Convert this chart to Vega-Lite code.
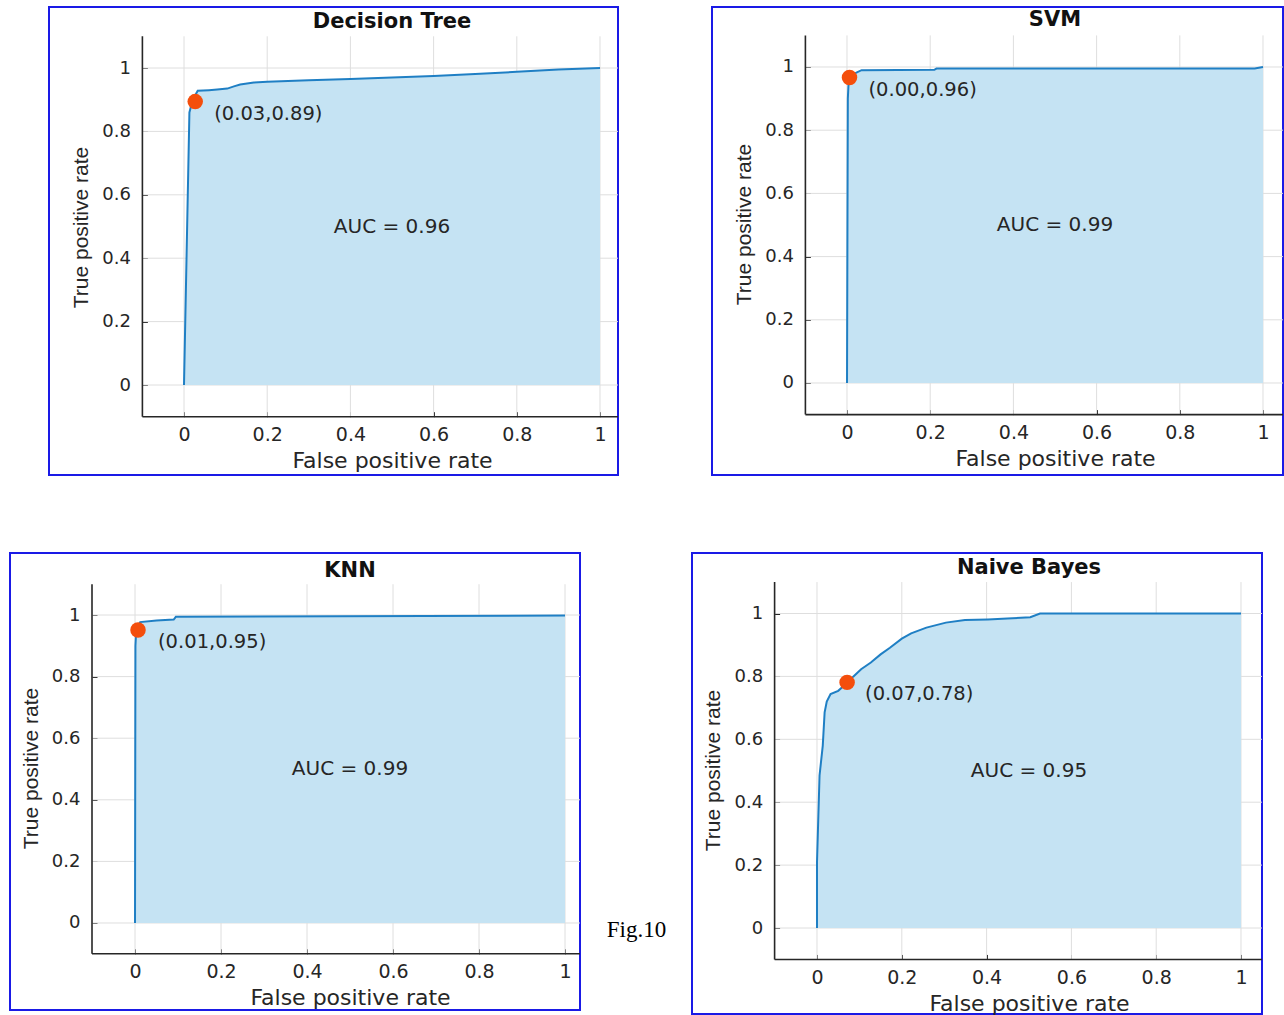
{
  "$schema": "https://vega.github.io/schema/vega-lite/v6.json",
  "padding": {"left": 9, "top": 6, "right": 0, "bottom": 0},
  "autosize": {"type": "pad"},
  "background": "white",
  "datasets": {
    "grid": [
      {"fpr": 0, "tpr": 0}, {"fpr": 0.2, "tpr": 0.2}, {"fpr": 0.4, "tpr": 0.4},
      {"fpr": 0.6, "tpr": 0.6}, {"fpr": 0.8, "tpr": 0.8}, {"fpr": 1, "tpr": 1}
    ],
    "dt": [
      {"fpr": 0, "tpr": 0}, {"fpr": 0.013, "tpr": 0.86}, {"fpr": 0.021, "tpr": 0.9}, {"fpr": 0.033, "tpr": 0.928},
      {"fpr": 0.06, "tpr": 0.93}, {"fpr": 0.08, "tpr": 0.932}, {"fpr": 0.104, "tpr": 0.935}, {"fpr": 0.12, "tpr": 0.942},
      {"fpr": 0.135, "tpr": 0.948}, {"fpr": 0.168, "tpr": 0.954}, {"fpr": 0.2, "tpr": 0.957}, {"fpr": 0.3, "tpr": 0.961},
      {"fpr": 0.4, "tpr": 0.965}, {"fpr": 0.5, "tpr": 0.97}, {"fpr": 0.6, "tpr": 0.975}, {"fpr": 0.7, "tpr": 0.981},
      {"fpr": 0.8, "tpr": 0.988}, {"fpr": 0.9, "tpr": 0.995}, {"fpr": 1, "tpr": 1.0}
    ],
    "svm": [
      {"fpr": 0, "tpr": 0}, {"fpr": 0.002, "tpr": 0.9}, {"fpr": 0.004, "tpr": 0.955}, {"fpr": 0.012, "tpr": 0.975},
      {"fpr": 0.025, "tpr": 0.984}, {"fpr": 0.035, "tpr": 0.99}, {"fpr": 0.21, "tpr": 0.991}, {"fpr": 0.215, "tpr": 0.995},
      {"fpr": 0.98, "tpr": 0.995}, {"fpr": 1, "tpr": 1.0}
    ],
    "knn": [
      {"fpr": 0, "tpr": 0}, {"fpr": 0.001, "tpr": 0.9}, {"fpr": 0.003, "tpr": 0.955}, {"fpr": 0.012, "tpr": 0.977},
      {"fpr": 0.05, "tpr": 0.982}, {"fpr": 0.09, "tpr": 0.985}, {"fpr": 0.095, "tpr": 0.994}, {"fpr": 1, "tpr": 0.998}
    ],
    "nb": [
      {"fpr": 0, "tpr": 0}, {"fpr": 0.0, "tpr": 0.21}, {"fpr": 0.006, "tpr": 0.485}, {"fpr": 0.0136, "tpr": 0.58},
      {"fpr": 0.018, "tpr": 0.686}, {"fpr": 0.023, "tpr": 0.72}, {"fpr": 0.032, "tpr": 0.744}, {"fpr": 0.05, "tpr": 0.754},
      {"fpr": 0.07, "tpr": 0.778}, {"fpr": 0.086, "tpr": 0.8}, {"fpr": 0.104, "tpr": 0.823}, {"fpr": 0.127, "tpr": 0.844},
      {"fpr": 0.15, "tpr": 0.87}, {"fpr": 0.172, "tpr": 0.891}, {"fpr": 0.2, "tpr": 0.92}, {"fpr": 0.222, "tpr": 0.937},
      {"fpr": 0.258, "tpr": 0.955}, {"fpr": 0.304, "tpr": 0.971}, {"fpr": 0.349, "tpr": 0.979}, {"fpr": 0.403, "tpr": 0.981},
      {"fpr": 0.449, "tpr": 0.984}, {"fpr": 0.503, "tpr": 0.988}, {"fpr": 0.526, "tpr": 1.0}, {"fpr": 1, "tpr": 1.0}
    ],
    "panels": [
      {"model": "Decision Tree", "auc": "AUC = 0.96"},
      {"model": "SVM", "auc": "AUC = 0.99"},
      {"model": "KNN", "auc": "AUC = 0.99"},
      {"model": "Naive Bayes", "auc": "AUC = 0.95"}
    ]
  },
  "spacing": 76,
  "vconcat": [
    {
      "spacing": 91,
      "hconcat": [
        {
          "spacing": 0,
          "hconcat": [
            {"width": 38, "height": 10, "view": {"stroke": null}, "data": {"values": []}, "mark": "point"},
            {
              "width": 569, "height": 468,
              "layer": [
                {"data": {"name": "grid"}, "mark": {"type": "rule", "color": "#dedede", "strokeWidth": 1},
                 "encoding": {
                   "x": {"field": "fpr", "type": "quantitative", "title": "False positive rate", "scale": {"domain": [-0.32452, 1.04327], "nice": false, "zero": false},
                         "axis": {"values": [0, 0.2, 0.4, 0.6, 0.8, 1], "format": "~g", "offset": -58.3, "titleX": 343}},
                   "y": {"datum": -0.1, "type": "quantitative", "title": "True positive rate", "scale": {"domain": [-0.28391, 1.19243], "nice": false, "zero": false},
                         "axis": {"values": [0, 0.2, 0.4, 0.6, 0.8, 1], "format": "~g", "offset": -93.4, "titleY": 220}},
                   "y2": {"datum": 1.1}}},
                {"data": {"name": "grid"}, "mark": {"type": "rule", "color": "#dedede", "strokeWidth": 1},
                 "encoding": {"x": {"datum": -0.1, "type": "quantitative", "title": "False positive rate"}, "x2": {"datum": 1.04327},
                              "y": {"field": "tpr", "type": "quantitative", "title": "True positive rate"}}},
                {"data": {"name": "dt"}, "mark": {"type": "area", "color": "#c5e3f3", "opacity": 1},
                 "encoding": {"x": {"field": "fpr", "type": "quantitative", "title": "False positive rate"},
                              "y": {"field": "tpr", "type": "quantitative", "title": "True positive rate"}, "y2": {"datum": 0}}},
                {"data": {"name": "dt"}, "mark": {"type": "line", "color": "#1f7fc4", "strokeWidth": 2},
                 "encoding": {"x": {"field": "fpr", "type": "quantitative", "title": "False positive rate"},
                              "y": {"field": "tpr", "type": "quantitative", "title": "True positive rate"}}},
                {"data": {"values": [{"fpr": 0.027, "tpr": 0.894, "label": "(0.03,0.89)"}]},
                 "mark": {"type": "circle", "color": "#f44e0c", "size": 240, "opacity": 1},
                 "encoding": {"x": {"field": "fpr", "type": "quantitative", "title": "False positive rate"},
                              "y": {"field": "tpr", "type": "quantitative", "title": "True positive rate"}}},
                {"data": {"values": [{"fpr": 0.027, "tpr": 0.894, "label": "(0.03,0.89)"}]},
                 "mark": {"type": "text", "align": "left", "baseline": "middle", "dx": 19, "dy": 12, "fontSize": 19.5, "color": "#262626"},
                 "encoding": {"x": {"field": "fpr", "type": "quantitative", "title": "False positive rate"},
                              "y": {"field": "tpr", "type": "quantitative", "title": "True positive rate"}, "text": {"field": "label"}}},
                {"data": {"name": "panels"}, "transform": [{"filter": "datum.model === 'Decision Tree'"}],
                 "layer": [
                   {"mark": {"type": "text", "align": "center", "baseline": "middle", "fontSize": 20, "color": "#262626"},
                    "encoding": {"x": {"datum": 0.5, "type": "quantitative", "title": "False positive rate"}, "y": {"datum": 0.5, "type": "quantitative", "title": "True positive rate"}, "text": {"field": "auc"}}},
                   {"mark": {"type": "text", "align": "center", "baseline": "middle", "fontSize": 21, "fontWeight": "bold", "color": "#111111"},
                    "encoding": {"x": {"datum": 0.5, "type": "quantitative", "title": "False positive rate"}, "y": {"datum": 1.146, "type": "quantitative", "title": "True positive rate"}, "text": {"field": "model"}}},
                   {"mark": {"type": "rule", "color": "#262626", "strokeWidth": 1.6},
                    "encoding": {"x": {"datum": -0.1, "type": "quantitative", "title": "False positive rate"}, "x2": {"datum": 1.04327}, "y": {"datum": -0.1, "type": "quantitative", "title": "True positive rate"}}},
                   {"mark": {"type": "rule", "color": "#262626", "strokeWidth": 1.6},
                    "encoding": {"x": {"datum": -0.1, "type": "quantitative", "title": "False positive rate"}, "y": {"datum": -0.1, "type": "quantitative", "title": "True positive rate"}, "y2": {"datum": 1.1}}}
                 ]}
              ]
            }
          ]
        },
        {
          "width": 571, "height": 468,
          "layer": [
            {"data": {"name": "grid"}, "mark": {"type": "rule", "color": "#dedede", "strokeWidth": 1},
             "encoding": {
               "x": {"field": "fpr", "type": "quantitative", "title": "False positive rate", "scale": {"domain": [-0.32452, 1.04808], "nice": false, "zero": false},
                     "axis": {"values": [0, 0.2, 0.4, 0.6, 0.8, 1], "format": "~g", "offset": -60.4, "titleX": 343}},
               "y": {"datum": -0.1, "type": "quantitative", "title": "True positive rate", "scale": {"domain": [-0.29114, 1.18987], "nice": false, "zero": false},
                     "axis": {"values": [0, 0.2, 0.4, 0.6, 0.8, 1], "format": "~g", "offset": -93.4, "titleY": 217}},
               "y2": {"datum": 1.1}}},
            {"data": {"name": "grid"}, "mark": {"type": "rule", "color": "#dedede", "strokeWidth": 1},
             "encoding": {"x": {"datum": -0.1, "type": "quantitative", "title": "False positive rate"}, "x2": {"datum": 1.04808},
                          "y": {"field": "tpr", "type": "quantitative", "title": "True positive rate"}}},
            {"data": {"name": "svm"}, "mark": {"type": "area", "color": "#c5e3f3", "opacity": 1},
             "encoding": {"x": {"field": "fpr", "type": "quantitative", "title": "False positive rate"},
                          "y": {"field": "tpr", "type": "quantitative", "title": "True positive rate"}, "y2": {"datum": 0}}},
            {"data": {"name": "svm"}, "mark": {"type": "line", "color": "#1f7fc4", "strokeWidth": 2},
             "encoding": {"x": {"field": "fpr", "type": "quantitative", "title": "False positive rate"},
                          "y": {"field": "tpr", "type": "quantitative", "title": "True positive rate"}}},
            {"data": {"values": [{"fpr": 0.006, "tpr": 0.967, "label": "(0.00,0.96)"}]},
             "mark": {"type": "circle", "color": "#f44e0c", "size": 240, "opacity": 1},
             "encoding": {"x": {"field": "fpr", "type": "quantitative", "title": "False positive rate"},
                          "y": {"field": "tpr", "type": "quantitative", "title": "True positive rate"}}},
            {"data": {"values": [{"fpr": 0.006, "tpr": 0.967, "label": "(0.00,0.96)"}]},
             "mark": {"type": "text", "align": "left", "baseline": "middle", "dx": 19, "dy": 13, "fontSize": 19.5, "color": "#262626"},
             "encoding": {"x": {"field": "fpr", "type": "quantitative", "title": "False positive rate"},
                          "y": {"field": "tpr", "type": "quantitative", "title": "True positive rate"}, "text": {"field": "label"}}},
            {"data": {"name": "panels"}, "transform": [{"filter": "datum.model === 'SVM'"}],
             "layer": [
               {"mark": {"type": "text", "align": "center", "baseline": "middle", "fontSize": 20, "color": "#262626"},
                "encoding": {"x": {"datum": 0.5, "type": "quantitative", "title": "False positive rate"}, "y": {"datum": 0.5, "type": "quantitative", "title": "True positive rate"}, "text": {"field": "auc"}}},
               {"mark": {"type": "text", "align": "center", "baseline": "middle", "fontSize": 21, "fontWeight": "bold", "color": "#111111"},
                "encoding": {"x": {"datum": 0.5, "type": "quantitative", "title": "False positive rate"}, "y": {"datum": 1.149, "type": "quantitative", "title": "True positive rate"}, "text": {"field": "model"}}},
               {"mark": {"type": "rule", "color": "#262626", "strokeWidth": 1.6},
                "encoding": {"x": {"datum": -0.1, "type": "quantitative", "title": "False positive rate"}, "x2": {"datum": 1.04808}, "y": {"datum": -0.1, "type": "quantitative", "title": "True positive rate"}}},
               {"mark": {"type": "rule", "color": "#262626", "strokeWidth": 1.6},
                "encoding": {"x": {"datum": -0.1, "type": "quantitative", "title": "False positive rate"}, "y": {"datum": -0.1, "type": "quantitative", "title": "True positive rate"}, "y2": {"datum": 1.1}}}
             ]}
          ]
        }
      ]
    },
    {
      "spacing": 18.5,
      "hconcat": [
        {
          "width": 570, "height": 457,
          "layer": [
            {"data": {"name": "grid"}, "mark": {"type": "rule", "color": "#dedede", "strokeWidth": 1},
             "encoding": {
               "x": {"field": "fpr", "type": "quantitative", "title": "False positive rate", "scale": {"domain": [-0.2907, 1.03488], "nice": false, "zero": false},
                     "axis": {"values": [0, 0.2, 0.4, 0.6, 0.8, 1], "format": "~g", "offset": -56.2, "titleX": 340}},
               "y": {"datum": -0.1, "type": "quantitative", "title": "True positive rate", "scale": {"domain": [-0.28247, 1.2013], "nice": false, "zero": false},
                     "axis": {"values": [0, 0.2, 0.4, 0.6, 0.8, 1], "format": "~g", "offset": -82, "titleY": 215}},
               "y2": {"datum": 1.1}}},
            {"data": {"name": "grid"}, "mark": {"type": "rule", "color": "#dedede", "strokeWidth": 1},
             "encoding": {"x": {"datum": -0.1, "type": "quantitative", "title": "False positive rate"}, "x2": {"datum": 1.03488},
                          "y": {"field": "tpr", "type": "quantitative", "title": "True positive rate"}}},
            {"data": {"name": "knn"}, "mark": {"type": "area", "color": "#c5e3f3", "opacity": 1},
             "encoding": {"x": {"field": "fpr", "type": "quantitative", "title": "False positive rate"},
                          "y": {"field": "tpr", "type": "quantitative", "title": "True positive rate"}, "y2": {"datum": 0}}},
            {"data": {"name": "knn"}, "mark": {"type": "line", "color": "#1f7fc4", "strokeWidth": 2},
             "encoding": {"x": {"field": "fpr", "type": "quantitative", "title": "False positive rate"},
                          "y": {"field": "tpr", "type": "quantitative", "title": "True positive rate"}}},
            {"data": {"values": [{"fpr": 0.007, "tpr": 0.951, "label": "(0.01,0.95)"}]},
             "mark": {"type": "circle", "color": "#f44e0c", "size": 240, "opacity": 1},
             "encoding": {"x": {"field": "fpr", "type": "quantitative", "title": "False positive rate"},
                          "y": {"field": "tpr", "type": "quantitative", "title": "True positive rate"}}},
            {"data": {"values": [{"fpr": 0.007, "tpr": 0.951, "label": "(0.01,0.95)"}]},
             "mark": {"type": "text", "align": "left", "baseline": "middle", "dx": 20, "dy": 12, "fontSize": 19.5, "color": "#262626"},
             "encoding": {"x": {"field": "fpr", "type": "quantitative", "title": "False positive rate"},
                          "y": {"field": "tpr", "type": "quantitative", "title": "True positive rate"}, "text": {"field": "label"}}},
            {"data": {"name": "panels"}, "transform": [{"filter": "datum.model === 'KNN'"}],
             "layer": [
               {"mark": {"type": "text", "align": "center", "baseline": "middle", "fontSize": 20, "color": "#262626"},
                "encoding": {"x": {"datum": 0.5, "type": "quantitative", "title": "False positive rate"}, "y": {"datum": 0.5, "type": "quantitative", "title": "True positive rate"}, "text": {"field": "auc"}}},
               {"mark": {"type": "text", "align": "center", "baseline": "middle", "fontSize": 21, "fontWeight": "bold", "color": "#111111"},
                "encoding": {"x": {"datum": 0.5, "type": "quantitative", "title": "False positive rate"}, "y": {"datum": 1.143, "type": "quantitative", "title": "True positive rate"}, "text": {"field": "model"}}},
               {"mark": {"type": "rule", "color": "#262626", "strokeWidth": 1.6},
                "encoding": {"x": {"datum": -0.1, "type": "quantitative", "title": "False positive rate"}, "x2": {"datum": 1.03488}, "y": {"datum": -0.1, "type": "quantitative", "title": "True positive rate"}}},
               {"mark": {"type": "rule", "color": "#262626", "strokeWidth": 1.6},
                "encoding": {"x": {"datum": -0.1, "type": "quantitative", "title": "False positive rate"}, "y": {"datum": -0.1, "type": "quantitative", "title": "True positive rate"}, "y2": {"datum": 1.1}}}
             ]}
          ]
        },
        {
          "width": 72, "height": 460,
          "view": {"stroke": null},
          "data": {"values": [{"t": "Fig.10"}]},
          "mark": {"type": "text", "font": "Liberation Serif", "fontSize": 23, "color": "#000000", "dy": 147},
          "encoding": {"text": {"field": "t"}}
        },
        {
          "width": 570, "height": 461,
          "layer": [
            {"data": {"name": "grid"}, "mark": {"type": "rule", "color": "#dedede", "strokeWidth": 1},
             "encoding": {
               "x": {"field": "fpr", "type": "quantitative", "title": "False positive rate", "scale": {"domain": [-0.29481, 1.04953], "nice": false, "zero": false},
                     "axis": {"values": [0, 0.2, 0.4, 0.6, 0.8, 1], "format": "~g", "offset": -54.55, "titleX": 337}},
               "y": {"datum": -0.1, "type": "quantitative", "title": "True positive rate", "scale": {"domain": [-0.27345, 1.19237], "nice": false, "zero": false},
                     "axis": {"values": [0, 0.2, 0.4, 0.6, 0.8, 1], "format": "~g", "offset": -82.6, "titleY": 217}},
               "y2": {"datum": 1.1}}},
            {"data": {"name": "grid"}, "mark": {"type": "rule", "color": "#dedede", "strokeWidth": 1},
             "encoding": {"x": {"datum": -0.1, "type": "quantitative", "title": "False positive rate"}, "x2": {"datum": 1.04953},
                          "y": {"field": "tpr", "type": "quantitative", "title": "True positive rate"}}},
            {"data": {"name": "nb"}, "mark": {"type": "area", "color": "#c5e3f3", "opacity": 1},
             "encoding": {"x": {"field": "fpr", "type": "quantitative", "title": "False positive rate"},
                          "y": {"field": "tpr", "type": "quantitative", "title": "True positive rate"}, "y2": {"datum": 0}}},
            {"data": {"name": "nb"}, "mark": {"type": "line", "color": "#1f7fc4", "strokeWidth": 2},
             "encoding": {"x": {"field": "fpr", "type": "quantitative", "title": "False positive rate"},
                          "y": {"field": "tpr", "type": "quantitative", "title": "True positive rate"}}},
            {"data": {"values": [{"fpr": 0.071, "tpr": 0.781, "label": "(0.07,0.78)"}]},
             "mark": {"type": "circle", "color": "#f44e0c", "size": 240, "opacity": 1},
             "encoding": {"x": {"field": "fpr", "type": "quantitative", "title": "False positive rate"},
                          "y": {"field": "tpr", "type": "quantitative", "title": "True positive rate"}}},
            {"data": {"values": [{"fpr": 0.071, "tpr": 0.781, "label": "(0.07,0.78)"}]},
             "mark": {"type": "text", "align": "left", "baseline": "middle", "dx": 18, "dy": 12, "fontSize": 19.5, "color": "#262626"},
             "encoding": {"x": {"field": "fpr", "type": "quantitative", "title": "False positive rate"},
                          "y": {"field": "tpr", "type": "quantitative", "title": "True positive rate"}, "text": {"field": "label"}}},
            {"data": {"name": "panels"}, "transform": [{"filter": "datum.model === 'Naive Bayes'"}],
             "layer": [
               {"mark": {"type": "text", "align": "center", "baseline": "middle", "fontSize": 20, "color": "#262626"},
                "encoding": {"x": {"datum": 0.5, "type": "quantitative", "title": "False positive rate"}, "y": {"datum": 0.5, "type": "quantitative", "title": "True positive rate"}, "text": {"field": "auc"}}},
               {"mark": {"type": "text", "align": "center", "baseline": "middle", "fontSize": 21, "fontWeight": "bold", "color": "#111111"},
                "encoding": {"x": {"datum": 0.5, "type": "quantitative", "title": "False positive rate"}, "y": {"datum": 1.145, "type": "quantitative", "title": "True positive rate"}, "text": {"field": "model"}}},
               {"mark": {"type": "rule", "color": "#262626", "strokeWidth": 1.6},
                "encoding": {"x": {"datum": -0.1, "type": "quantitative", "title": "False positive rate"}, "x2": {"datum": 1.04953}, "y": {"datum": -0.1, "type": "quantitative", "title": "True positive rate"}}},
               {"mark": {"type": "rule", "color": "#262626", "strokeWidth": 1.6},
                "encoding": {"x": {"datum": -0.1, "type": "quantitative", "title": "False positive rate"}, "y": {"datum": -0.1, "type": "quantitative", "title": "True positive rate"}, "y2": {"datum": 1.1}}}
             ]}
          ]
        }
      ]
    }
  ],
  "config": {
    "view": {"stroke": "#1a1ae6", "strokeWidth": 2},
    "font": "DejaVu Sans",
    "text": {"font": "DejaVu Sans"},
    "axis": {
      "grid": false, "domain": false,
      "tickColor": "#262626", "tickSize": -5, "tickWidth": 1,
      "labelFont": "DejaVu Sans", "labelFontSize": 18, "labelColor": "#262626", "labelFlush": false,
      "titleFont": "DejaVu Sans", "titleFontWeight": "normal", "titleColor": "#262626"
    },
    "axisX": {"labelPadding": 14, "labelFontSize": 19, "titleFontSize": 22, "titlePadding": 6},
    "axisY": {"labelPadding": 17, "titleFont": "Liberation Sans", "titleFontSize": 21, "titlePadding": 10}
  }
}
